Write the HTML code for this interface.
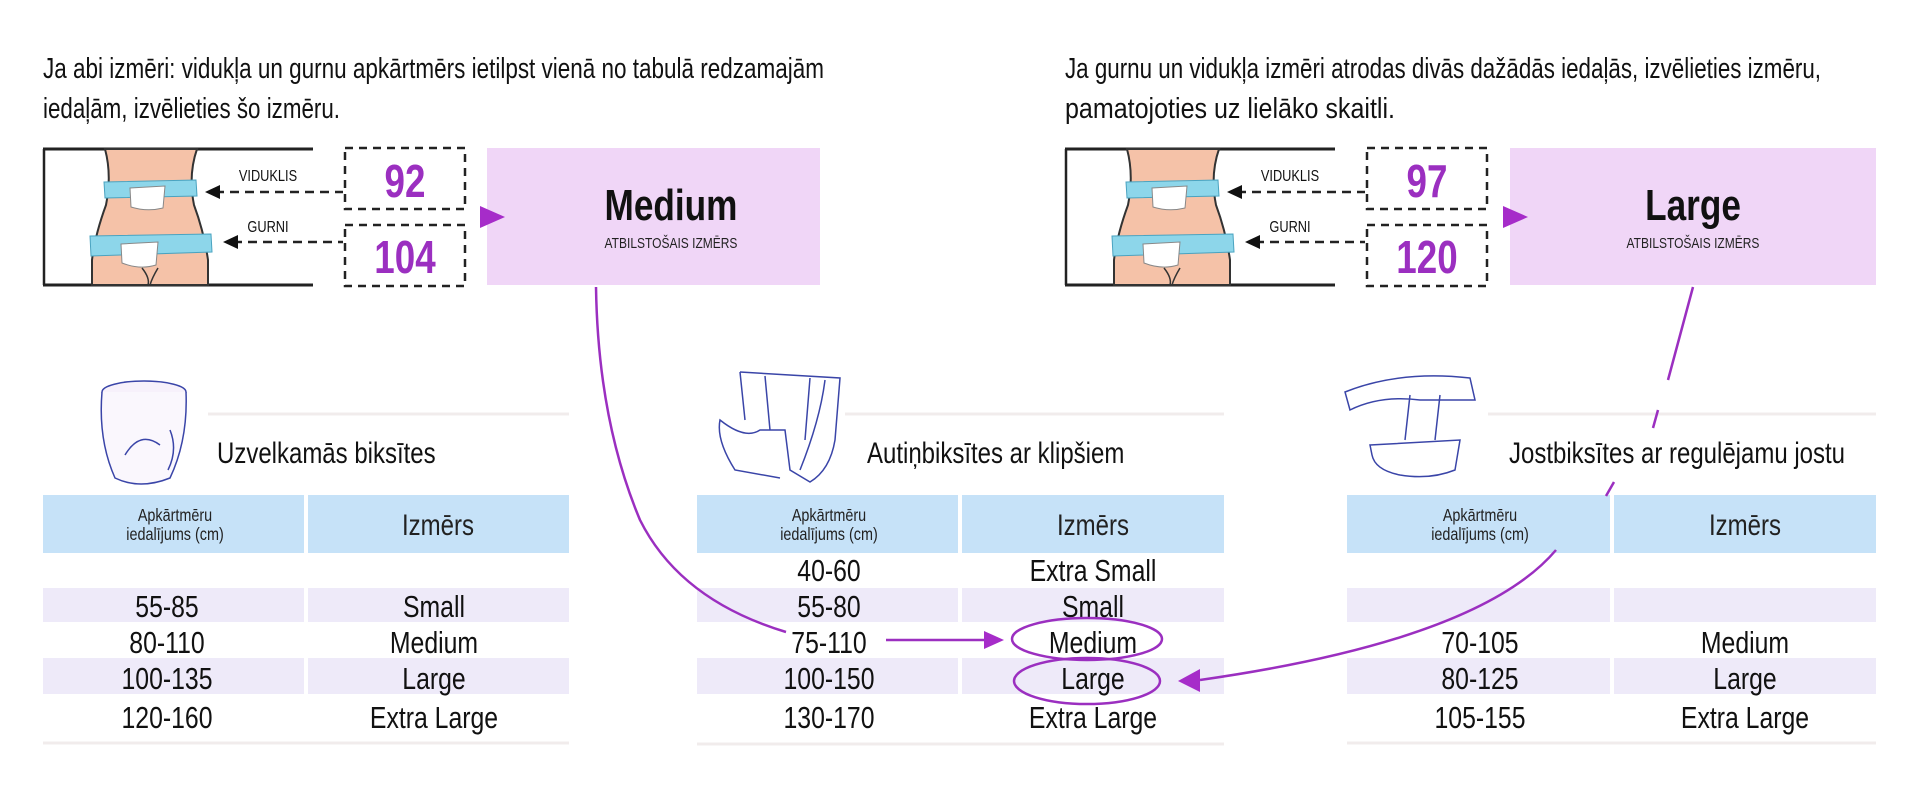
<!DOCTYPE html>
<html><head><meta charset="utf-8"><style>
html,body{margin:0;padding:0;background:#fff;}
svg{display:block;}
text{font-family:"Liberation Sans Narrow","Liberation Sans",sans-serif;transform-box:fill-box;transform-origin:center;transform:scaleX(.8);}
text.p{transform:none;}
text.l{transform-origin:left center;}
</style></head><body>
<svg width="1920" height="788" viewBox="0 0 1920 788" xmlns="http://www.w3.org/2000/svg">
<defs>
<g id="body">
  <line x1="43" y1="149" x2="313" y2="149" stroke="#222" stroke-width="3"/>
  <line x1="43" y1="285" x2="313" y2="285" stroke="#222" stroke-width="3"/>
  <line x1="44" y1="149" x2="44" y2="285" stroke="#222" stroke-width="2.5"/>
  <path d="M105 149 Q112 175 106 205 Q95 235 92 260 L92 285 L208 285 L208 260 Q204 232 194 205 Q188 175 197 149 Z" fill="#f5c2a8" stroke="#333" stroke-width="2"/>
  <path d="M142 268 Q150 278 148 285 M158 268 Q152 278 150 285" stroke="#333" fill="none" stroke-width="1.5"/>
  <path d="M104 182 L196 180 L197 196 L105 198 Z" fill="#8dd6ea" stroke="#4aa3c0" stroke-width="1"/>
  <path d="M130 188 L165 186 L163 208 Q147 212 131 207 Z" fill="#fff" stroke="#888" stroke-width="1"/>
  <path d="M90 236 L211 234 L212 252 L91 256 Z" fill="#8dd6ea" stroke="#4aa3c0" stroke-width="1"/>
  <path d="M121 244 L158 242 L156 265 Q140 270 122 263 Z" fill="#fff" stroke="#888" stroke-width="1"/>
  <rect x="345" y="148" width="120" height="61" fill="none" stroke="#222" stroke-width="2.5" stroke-dasharray="8,6"/>
  <rect x="345" y="225" width="120" height="61" fill="none" stroke="#222" stroke-width="2.5" stroke-dasharray="8,6"/>
  <line x1="215" y1="192" x2="343" y2="192" stroke="#222" stroke-width="2.5" stroke-dasharray="9,6"/>
  <polygon points="205,192 220,185 220,199" fill="#111"/>
  <line x1="233" y1="242" x2="343" y2="242" stroke="#222" stroke-width="2.5" stroke-dasharray="9,6"/>
  <polygon points="223,242 238,235 238,249" fill="#111"/>
  <text x="268" y="181" font-size="16" text-anchor="middle" fill="#111">VIDUKLIS</text>
  <text x="268" y="232" font-size="16" text-anchor="middle" fill="#111">GURNI</text>
</g>
</defs>

<text class="p" x="43" y="78" font-size="29" fill="#111" textLength="781" lengthAdjust="spacingAndGlyphs">Ja abi izmēri: vidukļa un gurnu apkārtmērs ietilpst vienā no tabulā redzamajām</text>
<text class="p" x="43" y="118" font-size="29" fill="#111" textLength="297" lengthAdjust="spacingAndGlyphs">iedaļām, izvēlieties šo izmēru.</text>
<text class="p" x="1065" y="78" font-size="29" fill="#111" textLength="756" lengthAdjust="spacingAndGlyphs">Ja gurnu un vidukļa izmēri atrodas divās dažādās iedaļās, izvēlieties izmēru,</text>
<text class="p" x="1065" y="118" font-size="29" fill="#111" textLength="330" lengthAdjust="spacingAndGlyphs">pamatojoties uz lielāko skaitli.</text>

<use href="#body"/>
<use href="#body" transform="translate(1022,0)"/>

<text x="405" y="197" font-size="46" font-weight="bold" fill="#9b2fc0" text-anchor="middle">92</text>
<text x="405" y="273" font-size="46" font-weight="bold" fill="#9b2fc0" text-anchor="middle">104</text>
<text x="1427" y="197" font-size="46" font-weight="bold" fill="#9b2fc0" text-anchor="middle">97</text>
<text x="1427" y="273" font-size="46" font-weight="bold" fill="#9b2fc0" text-anchor="middle">120</text>

<rect x="487" y="148" width="333" height="137" fill="#f0d6f7"/>
<rect x="1510" y="148" width="366" height="137" fill="#f0d6f7"/>
<polygon points="480,206 505,217 480,228" fill="#a62cc9"/>
<polygon points="1503,206 1528,217 1503,228" fill="#a62cc9"/>
<text x="671" y="220" font-size="44" font-weight="bold" fill="#111" text-anchor="middle">Medium</text>
<text x="671" y="248" font-size="15" fill="#222" text-anchor="middle">ATBILSTOŠAIS IZMĒRS</text>
<text x="1693" y="220" font-size="44" font-weight="bold" fill="#111" text-anchor="middle">Large</text>
<text x="1693" y="248" font-size="15" fill="#222" text-anchor="middle">ATBILSTOŠAIS IZMĒRS</text>

<line x1="208" y1="414" x2="569" y2="414" stroke="#f1ecec" stroke-width="3"/>
<line x1="845" y1="414" x2="1224" y2="414" stroke="#f1ecec" stroke-width="3"/>
<line x1="1488" y1="414" x2="1876" y2="414" stroke="#f1ecec" stroke-width="3"/>
<line x1="43" y1="743" x2="569" y2="743" stroke="#f1ecec" stroke-width="3"/>
<line x1="697" y1="744" x2="1224" y2="744" stroke="#f1ecec" stroke-width="3"/>
<line x1="1347" y1="743" x2="1876" y2="743" stroke="#f1ecec" stroke-width="3"/>

<text class="l" x="217" y="463" font-size="30" fill="#111">Uzvelkamās biksītes</text>
<text class="l" x="867" y="463" font-size="30" fill="#111">Autiņbiksītes ar klipšiem</text>
<text class="l" x="1509" y="463" font-size="30" fill="#111">Jostbiksītes ar regulējamu jostu</text>

<g fill="none" stroke="#3a45a8" stroke-width="1.5">
  <ellipse cx="144" cy="392" rx="42" ry="11" fill="#f7f1fb"/>
  <path d="M102 392 Q98 440 115 478 Q140 490 170 478 Q188 440 186 392" fill="#faf7fd"/>
  <path d="M125 455 Q140 430 160 445 M170 430 Q178 450 168 470"/>
  <path d="M740 372 L840 378 L835 440 Q830 470 810 482 L790 470 L785 430 L760 430 Q745 440 720 420 Q716 440 735 470 L780 478"/>
  <path d="M740 372 L745 420 M765 376 L770 430 M810 378 L805 440 M825 380 Q820 420 800 470"/>
  <path d="M1345 392 Q1400 370 1470 378 L1475 400 L1420 400 Q1380 395 1350 410 Z"/>
  <path d="M1370 445 L1460 440 L1455 470 Q1430 480 1400 475 Q1375 470 1372 455 Z M1410 395 L1405 440 M1440 395 L1435 440"/>
</g>

<g>
  <rect x="43" y="495" width="261" height="58" fill="#c6e2f8"/>
  <rect x="308" y="495" width="261" height="58" fill="#c6e2f8"/>
  <rect x="43" y="588" width="261" height="34" fill="#eeeaf9"/>
  <rect x="308" y="588" width="261" height="34" fill="#eeeaf9"/>
  <rect x="43" y="658" width="261" height="36" fill="#eeeaf9"/>
  <rect x="308" y="658" width="261" height="36" fill="#eeeaf9"/>
  <rect x="697" y="495" width="261" height="58" fill="#c6e2f8"/>
  <rect x="962" y="495" width="262" height="58" fill="#c6e2f8"/>
  <rect x="697" y="588" width="261" height="34" fill="#eeeaf9"/>
  <rect x="962" y="588" width="262" height="34" fill="#eeeaf9"/>
  <rect x="697" y="658" width="261" height="36" fill="#eeeaf9"/>
  <rect x="962" y="658" width="262" height="36" fill="#eeeaf9"/>
  <rect x="1347" y="495" width="263" height="58" fill="#c6e2f8"/>
  <rect x="1614" y="495" width="262" height="58" fill="#c6e2f8"/>
  <rect x="1347" y="588" width="263" height="34" fill="#eeeaf9"/>
  <rect x="1614" y="588" width="262" height="34" fill="#eeeaf9"/>
  <rect x="1347" y="658" width="263" height="36" fill="#eeeaf9"/>
  <rect x="1614" y="658" width="262" height="36" fill="#eeeaf9"/>
</g>

<g font-size="18" fill="#222" text-anchor="middle">
  <text x="175" y="521">Apkārtmēru</text><text x="175" y="540">iedalījums (cm)</text>
  <text x="829" y="521">Apkārtmēru</text><text x="829" y="540">iedalījums (cm)</text>
  <text x="1480" y="521">Apkārtmēru</text><text x="1480" y="540">iedalījums (cm)</text>
</g>
<g font-size="30" fill="#222" text-anchor="middle">
  <text x="438" y="535">Izmērs</text>
  <text x="1093" y="535">Izmērs</text>
  <text x="1745" y="535">Izmērs</text>
</g>
<g font-size="31" fill="#111" text-anchor="middle">
  <text x="167" y="617">55-85</text><text x="434" y="617">Small</text>
  <text x="167" y="653">80-110</text><text x="434" y="653">Medium</text>
  <text x="167" y="689">100-135</text><text x="434" y="689">Large</text>
  <text x="167" y="728">120-160</text><text x="434" y="728">Extra Large</text>

  <text x="829" y="581">40-60</text><text x="1093" y="581">Extra Small</text>
  <text x="829" y="617">55-80</text><text x="1093" y="617">Small</text>
  <text x="829" y="653">75-110</text><text x="1093" y="653">Medium</text>
  <text x="829" y="689">100-150</text><text x="1093" y="689">Large</text>
  <text x="829" y="728">130-170</text><text x="1093" y="728">Extra Large</text>

  <text x="1480" y="653">70-105</text><text x="1745" y="653">Medium</text>
  <text x="1480" y="689">80-125</text><text x="1745" y="689">Large</text>
  <text x="1480" y="728">105-155</text><text x="1745" y="728">Extra Large</text>
</g>

<g fill="none" stroke="#9b2fc0" stroke-width="2.5">
  <path d="M596 287 Q598 420 640 520 Q680 600 786 632"/>
  <line x1="886" y1="640" x2="985" y2="640"/>
  <ellipse cx="1087" cy="639" rx="75" ry="21"/>
  <ellipse cx="1087" cy="681" rx="73" ry="23"/>
  <path d="M1693 287 L1668 380 M1658 410 L1653 428 M1614 482 L1606 496"/>
  <path d="M1556 550 Q1480 640 1200 680"/>
</g>
<polygon points="1004,640 984,631 984,649" fill="#a62cc9"/>
<polygon points="1178,681 1200,669 1200,692" fill="#a62cc9"/>
</svg>
</body></html>
